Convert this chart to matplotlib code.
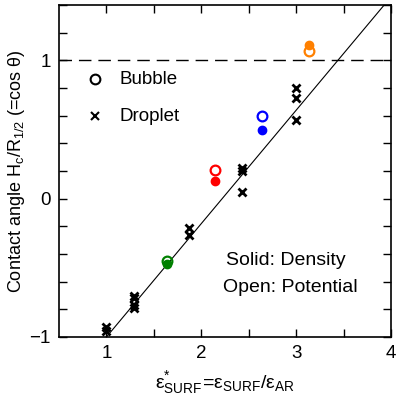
import numpy as np
import matplotlib
matplotlib.use('Agg')
import matplotlib.pyplot as plt

plt.rcParams['font.family'] = ['Liberation Sans', 'DejaVu Sans']
plt.rcParams['mathtext.fontset'] = 'custom'
plt.rcParams['mathtext.rm'] = 'Liberation Sans'
plt.rcParams['mathtext.it'] = 'Liberation Sans'

# droplet data (black crosses)
drop_x = [1.0, 1.0, 1.29, 1.29, 1.29, 1.29, 1.87, 1.87, 2.43, 2.43, 2.43, 3.0, 3.0, 3.0]
drop_y = [-0.93, -0.96, -0.70, -0.72, -0.77, -0.79, -0.21, -0.26, 0.22, 0.20, 0.05, 0.80, 0.73, 0.57]

# bubble data: open = potential, solid = density
bub_x = [1.64, 2.14, 2.64, 3.14]
bub_open = [-0.45, 0.21, 0.60, 1.07]
bub_solid = [-0.47, 0.13, 0.50, 1.11]
bub_col = ['#008000', '#ff0000', '#0000ff', '#ff8000']

# fit line
fit_x = [1.0, 3.93]
slope = 0.82

fig = plt.figure(figsize=(4.0, 3.96), dpi=100)
ax = fig.add_axes([0.1475, 0.149, 0.83, 0.838])

ax.axhline(1.0, color='black', lw=1.0, dashes=(9, 5))
fx = np.array(fit_x)
ax.plot(fx, -1 + slope*(fx - 1), color='black', lw=0.8)

ax.plot(drop_x, drop_y, 'x', color='black', ms=6, mew=2)
for x, yo, ys, c in zip(bub_x, bub_open, bub_solid, bub_col):
    ax.plot(x, ys, 'o', color=c, ms=6, mec=c, mew=1)
    ax.plot(x, yo, 'o', mfc='none', mec=c, ms=7, mew=1.6)

# legend by hand
ax.plot(0.88, 0.863, 'o', mfc='none', mec='black', ms=7, mew=1.5)
ax.text(1.14, 0.863, 'Bubble', fontsize=13.5, va='center')
ax.plot(0.88, 0.596, 'x', color='black', ms=6, mew=1.5)
ax.text(1.14, 0.596, 'Droplet', fontsize=13.5, va='center')

ax.text(2.26, -0.444, 'Solid: Density', fontsize=14, va='center')
ax.text(2.23, -0.64, 'Open: Potential', fontsize=14, va='center')

ax.set_xlim(0.5, 4)
ax.set_ylim(-1, 1.4)
ax.set_xticks([1, 2, 3, 4])
ax.set_xticks([1.5, 2.5, 3.5], minor=True)
ax.set_yticks([-1, 0, 1])
ax.set_yticklabels(['\u22121', '0', '1'])
ax.set_yticks(np.arange(-0.8, 1.41, 0.2), minor=True)
ax.tick_params(which='both', direction='in', top=True, right=True, labelsize=13.5, width=1)
ax.tick_params(which='major', length=6, pad=6)
ax.tick_params(which='minor', length=6)
for s in ax.spines.values():
    s.set_linewidth(1.2)

ax.set_xlabel(r'$\mathregular{\varepsilon^{*}_{SURF}\!=\!\varepsilon_{SURF}/\varepsilon_{AR}}$', fontsize=14, labelpad=5)
ax.set_ylabel(r'Contact angle H$_c$/R$_{1/2}$ (=cos $\theta$)', fontsize=13, labelpad=2)

fig.savefig('out.png', dpi=100)
